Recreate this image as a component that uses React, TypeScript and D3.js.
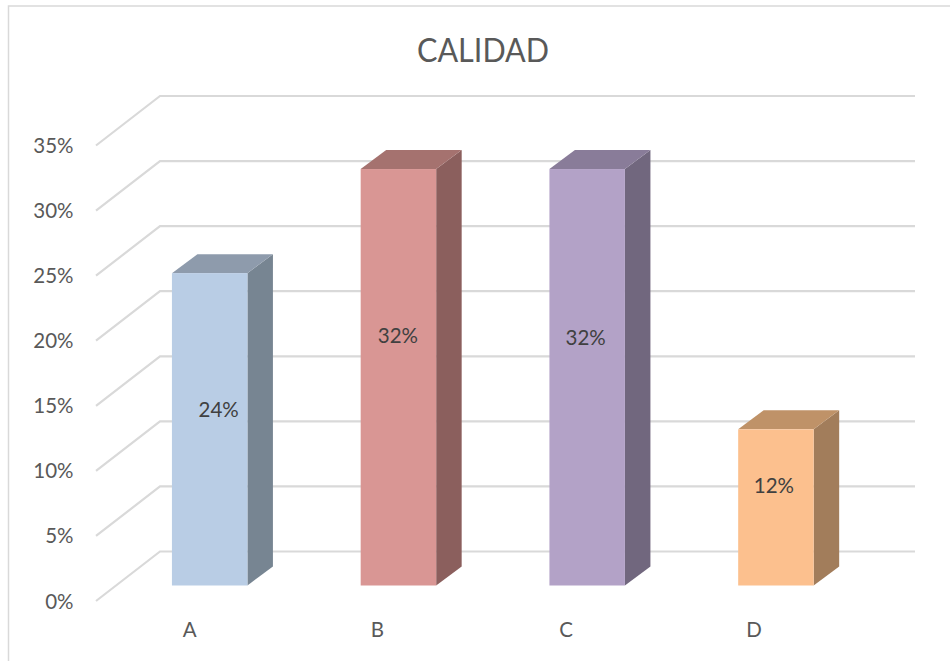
import React from "react";
import * as d3 from "d3";

const categories = ["A", "B", "C", "D"];
const values = [0.24, 0.32, 0.32, 0.12];
const ticks = [0, 0.05, 0.1, 0.15, 0.2, 0.25, 0.3, 0.35];
const title = "CALIDAD";
const frontColors = ["#B9CDE5", "#D99694", "#B3A2C7", "#FCC08E"];
const topColors = ["#8E9BAC", "#A5726F", "#897C99", "#BF9268"];
const sideColors = ["#778592", "#8B5F5D", "#71677E", "#A27D5B"];
const labelNudgeX = [9, -0.5, -1.5, -2];
const labelNudgeY = [-19.5, -41.5, -39.5, -21];
const categoryNudgeX = [-20, -21, -21, -22];

const FONT = "Lato, Carlito, sans-serif";
const floorDx = 64;
const floorDy = 49.5;
const barInsetX = 19.3;
const barInsetY = 15.5;
const sideDx = 25.5;
const sideDy = 19;

const y = d3.scaleLinear().domain([0, 0.35]).range([601, 145.5]);
const x = d3
  .scaleBand<string>()
  .domain(categories)
  .range([96 + barInsetX, 851 + barInsetX])
  .paddingInner(0.6)
  .paddingOuter(0.3);
const line = d3.line<[number, number]>();
const pct = d3.format(".0%");

export default function App() {
  const bw = x.bandwidth();
  return (
    <svg
      width={950}
      height={661}
      viewBox="0 0 950 661"
      style={{ position: "absolute", left: 0, top: 0, background: "#fff", fontFamily: FONT }}
    >
      <path d={line([[950, 6], [8.5, 6], [8.5, 661]]) ?? ""} fill="none" stroke="#d9d9d9" strokeWidth={1.5} />
      <text x={483} y={62} textAnchor="middle" fontSize={33} textLength={132} lengthAdjust="spacingAndGlyphs" fill="#595959">{title}</text>
      {ticks.map((t) => (
        <g key={t}>
          <path
            d={line([[96, y(t)], [96 + floorDx, y(t) - floorDy], [915, y(t) - floorDy]]) ?? ""}
            fill="none"
            stroke="#d9d9d9"
            strokeWidth={2.2}
          />
          <text x={73.5} y={y(t) + 7.5} textAnchor="end" fontSize={20.5} fill="#595959">{pct(t)}</text>
        </g>
      ))}
      {categories.map((c, i) => {
        const x0 = x(c)!;
        const x1 = x0 + bw;
        const yb = y(0) - barInsetY;
        const yt = y(values[i]) - barInsetY;
        return (
          <g key={c}>
            <path d={line([[x1, yt], [x1 + sideDx, yt - sideDy], [x1 + sideDx, yb - sideDy], [x1, yb]]) + "Z"} fill={sideColors[i]} />
            <path d={line([[x0, yt], [x0 + sideDx, yt - sideDy], [x1 + sideDx, yt - sideDy], [x1, yt]]) + "Z"} fill={topColors[i]} />
            <rect x={x0} y={yt} width={bw} height={yb - yt} fill={frontColors[i]} />
            <text
              x={x0 + bw / 2 + labelNudgeX[i]}
              y={(yt + yb) / 2 + labelNudgeY[i] + 7}
              textAnchor="middle"
              fontSize={20.5}
              fill="#404040"
            >
              {pct(values[i])}
            </text>
            <text x={x0 + bw / 2 + categoryNudgeX[i]} y={637} textAnchor="middle" fontSize={20.5} fill="#595959">{c}</text>
          </g>
        );
      })}
    </svg>
  );
}
